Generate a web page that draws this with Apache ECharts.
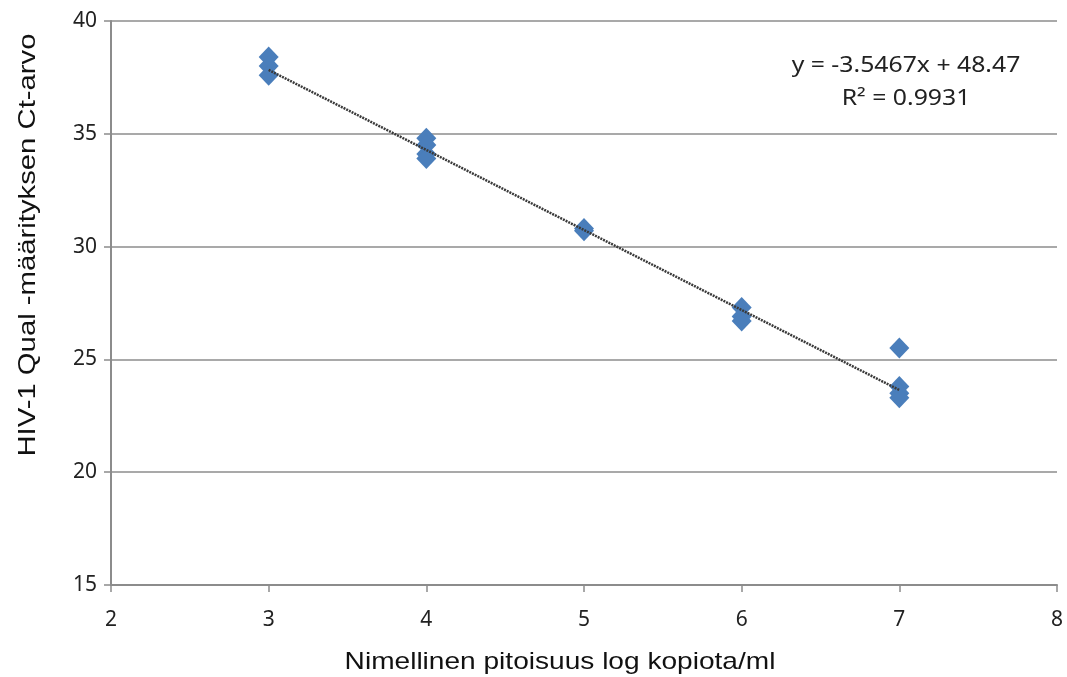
<!DOCTYPE html>
<html>
<head>
<meta charset="utf-8">
<script src="https://cdn.jsdelivr.net/npm/echarts@6/dist/echarts.min.js"></script>
<style>
  html, body { margin: 0; padding: 0; background: #fff; }
  #chart { width: 1067px; height: 677px; }
</style>
</head>
<body>
<div id="chart"></div>
<script>
// pitoisuus (log kopiota/ml) ja Ct-arvot
const xValues = [3, 3, 3, 4, 4, 4, 4, 5, 5, 6, 6, 6, 7, 7, 7, 7];
const ctValues = [38.4, 38.0, 37.6, 34.8, 34.5, 34.1, 33.9, 30.8, 30.7, 27.3, 26.9, 26.7, 25.5, 23.8, 23.5, 23.3];
const xTicks = [2, 3, 4, 5, 6, 7, 8];
const yTicks = [15, 20, 25, 30, 35, 40];
// trendiviiva Excelin yhtälöstä
const slope = -3.5467;
const intercept = 48.47;
const rSquared = 0.9931;
const trendX = [3, 7];

const chart = echarts.init(document.getElementById('chart'));

const points = xValues.map((x, i) => [x, ctValues[i]]);
const trend = trendX.map(x => [x, slope * x + intercept]);

const labelFont = 'Noto Sans';
const axisColor = '#8c8c8c';

const option = {
    animation: false,
    grid: { left: 111, right: 10, top: 21, bottom: 92 },
    xAxis: {
        type: 'value',
        min: xTicks[0],
        max: xTicks[xTicks.length - 1],
        interval: 1,
        axisLine: { show: true, lineStyle: { color: axisColor, width: 2 } },
        axisTick: { show: true, length: 7, lineStyle: { color: axisColor, width: 1.5 } },
        splitLine: { show: false },
        axisLabel: { margin: 25, fontSize: 21, color: '#222', fontFamily: labelFont }
    },
    yAxis: {
        type: 'value',
        min: yTicks[0],
        max: yTicks[yTicks.length - 1],
        interval: 5,
        axisLine: { show: true, lineStyle: { color: axisColor, width: 2 } },
        axisTick: { show: true, length: 7, lineStyle: { color: axisColor, width: 1.5 } },
        splitLine: { show: true, lineStyle: { color: axisColor, width: 1.5 } },
        axisLabel: { margin: 14, fontSize: 21, color: '#222', fontFamily: labelFont }
    },
    series: [
        {
            type: 'scatter',
            data: points,
            symbol: 'diamond',
            symbolSize: [20, 21],
            itemStyle: { color: '#4a7ebb', opacity: 1 },
            z: 2
        },
        {
            type: 'line',
            data: trend,
            symbol: 'none',
            lineStyle: { color: '#3a3a3a', width: 2.5, type: [2, 1] },
            z: 3
        }
    ],
    graphic: [
        {
            type: 'text',
            x: 28,
            y: 245,
            rotation: Math.PI / 2,
            style: {
                text: 'HIV-1 Qual -määrityksen Ct-arvo',
                font: '24px "Liberation Sans", Arial',
                fill: '#111',
                align: 'center',
                verticalAlign: 'middle'
            },
            scaleX: 1.22
        },
        {
            type: 'text',
            x: 560,
            y: 662,
            style: {
                text: 'Nimellinen pitoisuus log kopiota/ml',
                font: '24px "Liberation Sans", Arial',
                fill: '#111',
                align: 'center',
                verticalAlign: 'middle'
            },
            scaleX: 1.17
        },
        {
            type: 'text',
            x: 906,
            y: 66,
            style: {
                text: 'y = ' + slope + 'x + ' + intercept,
                font: '21px "Noto Sans"',
                fill: '#222',
                align: 'center',
                verticalAlign: 'middle'
            },
            scaleX: 1.18
        },
        {
            type: 'text',
            x: 906,
            y: 99,
            style: {
                text: 'R² = ' + rSquared,
                font: '21px "Noto Sans"',
                fill: '#222',
                align: 'center',
                verticalAlign: 'middle'
            },
            scaleX: 1.18
        }
    ]
};

chart.setOption(option);
</script>
</body>
</html>
